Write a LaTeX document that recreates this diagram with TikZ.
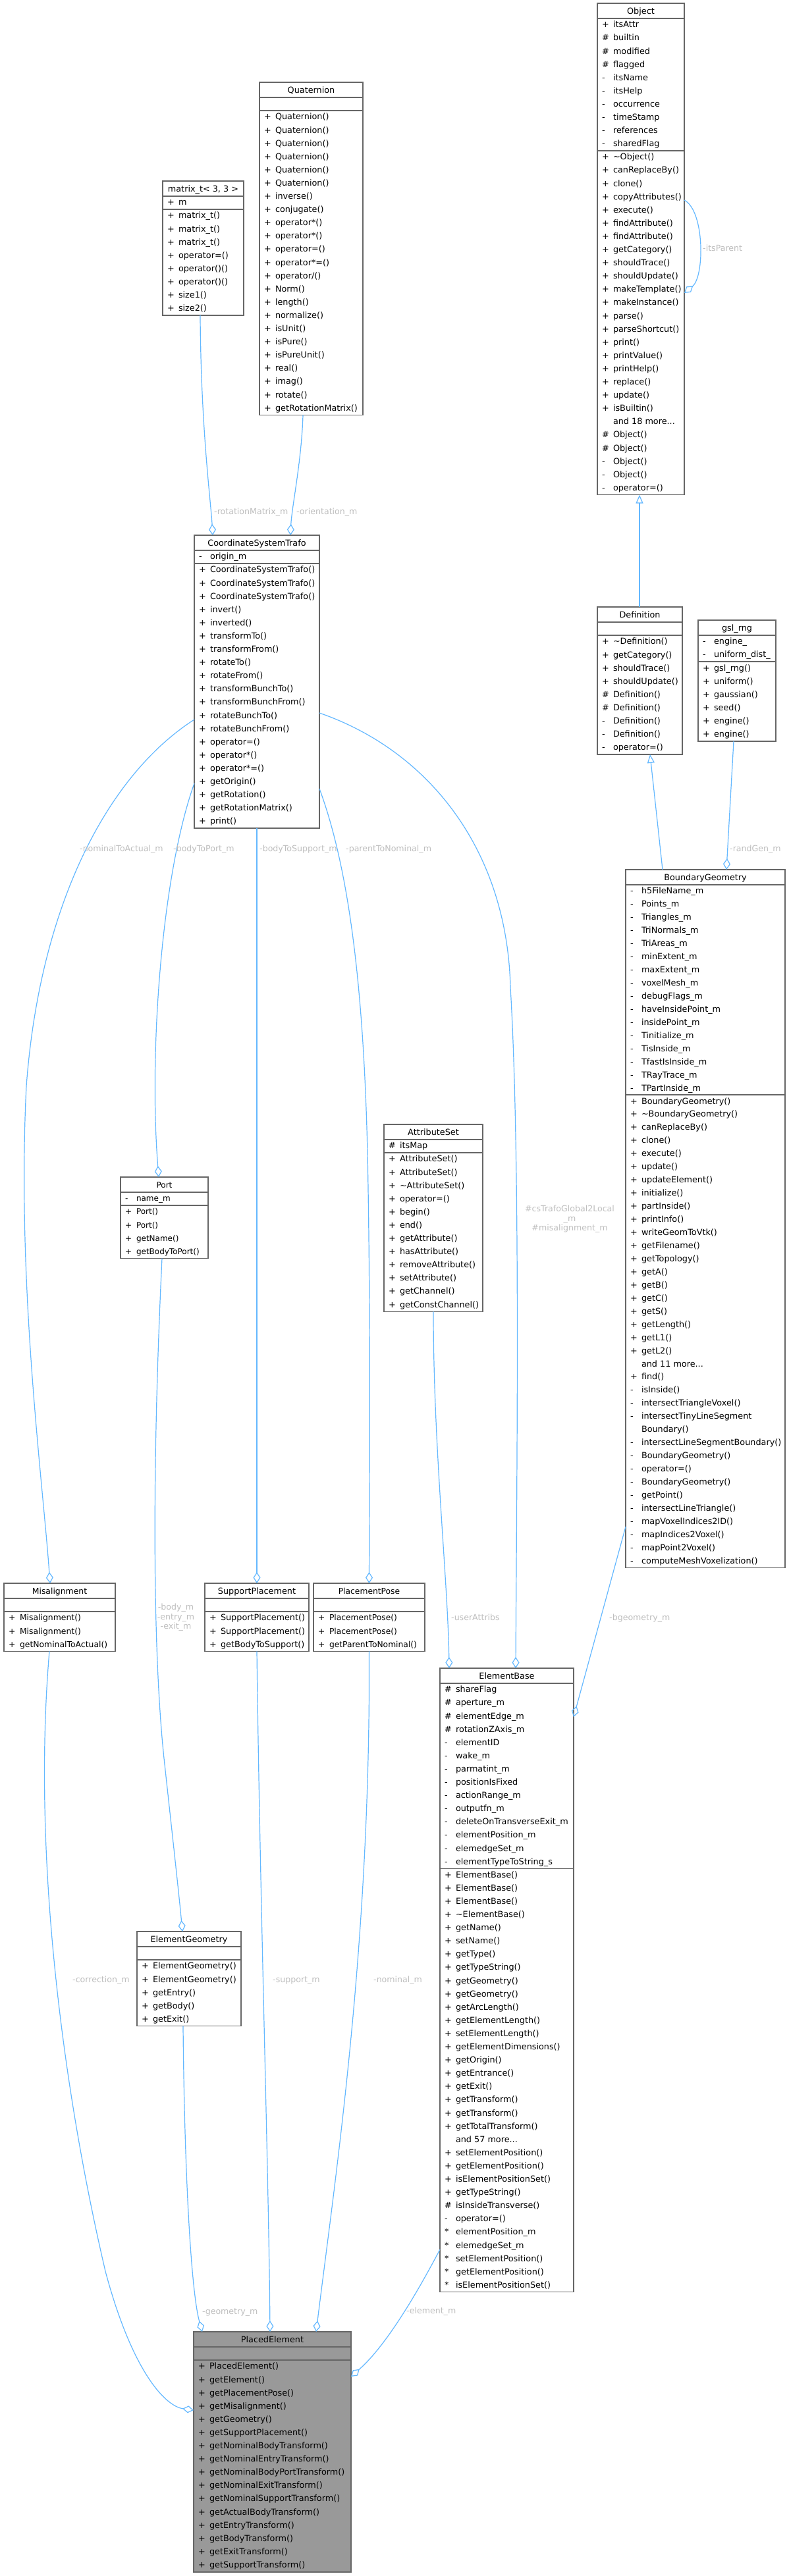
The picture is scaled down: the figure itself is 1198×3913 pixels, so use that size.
\documentclass[tikz,border=0pt]{standalone}
\usepackage{fontspec}
\setmainfont{DejaVu Sans}
\usetikzlibrary{arrows.meta}
\definecolor{edgeblue}{HTML}{63B8FF}
\definecolor{boxgray}{HTML}{666666}
\definecolor{lblgray}{HTML}{BEBEBE}
\definecolor{pefill}{HTML}{999999}
\newcommand\upitch{20.1}
\newcommand\ubfill{white}
\newcommand\ubfs{12.8}
\newcommand\tdots{...}
% #1 name, #2 x, #3 y, #4 w, #5 nA, #6 nM, #7 title, #8 attrs, #9 methods
\newcommand\umlbox[9]{%
  \pgfmathsetmacro\ubA{max(#5,1)*\upitch}%
  \pgfmathsetmacro\ubM{max(#6,1)*\upitch}%
  \pgfmathsetmacro\ubH{23+\ubA+\ubM}%
  \node[umlframe, fill=\ubfill, minimum width=#4pt, minimum height=\ubH pt, anchor=north west] (#1) at (#2,#3) {};%
  \node[rowtext, anchor=base] (#1-title) at ({#2+#4/2},{#3+16.5}) {#7};%
  \draw[sepline] (#2,{#3+23}) -- ({#2+#4},{#3+23});%
  \draw[sepline] (#2,{#3+23+\ubA}) -- ({#2+#4},{#3+23+\ubA});%
  \ifnum#5>0
    \foreach \usym/\uname [count=\ui] in {#8}{%
      \node[rowtext, anchor=base west] (#1-as\ui) at ({#2+7},{#3+36.8+(\ui-1)*\upitch}) {\usym};%
      \node[rowtext, anchor=base west] (#1-a\ui) at ({#2+24},{#3+36.8+(\ui-1)*\upitch}) {\uname};%
    }%
  \fi
  \foreach \usym/\uname [count=\ui] in {#9}{%
    \node[rowtext, anchor=base west] (#1-ms\ui) at ({#2+7},{#3+36.8+\ubA+(\ui-1)*\upitch}) {\usym};%
    \node[rowtext, anchor=base west] (#1-m\ui) at ({#2+24},{#3+36.8+\ubA+(\ui-1)*\upitch}) {\uname};%
  }%
}
\begin{document}
\begin{tikzpicture}[x=1pt,y=-1pt,
  umlframe/.style={draw=boxgray, line width=1.5pt, inner sep=0pt, outer sep=0pt, rectangle},
  sepline/.style={draw=boxgray, line width=1.5pt},
  rowtext/.style={font=\fontsize{\ubfs}{15}\selectfont, inner sep=0pt, outer sep=0pt, text=black},
  lbl/.style={font=\fontsize{12.6}{14.5}\selectfont, inner sep=0pt, text=lblgray},
  conn/.style={draw=edgeblue, line width=1.2pt},
  agg/.style={conn, -{Diamond[open, length=17pt, width=11pt]}},
  inh/.style={conn, -{Triangle[open, length=13pt, width=11pt]}}]
\fill[white] (0,0) rectangle (1198,3913);
\useasboundingbox (0,0) rectangle (1198,3913);

\umlbox{obj}{907}{5}{132}{10}{26}{Object}%
{+/itsAttr, \#/builtin, \#/modified, \#/flagged, -/itsName, -/itsHelp, -/occurrence, -/timeStamp, -/references, -/sharedFlag}%
{+/\textasciitilde Object(), +/canReplaceBy(), +/clone(), +/copyAttributes(), +/execute(), +/findAttribute(), +/findAttribute(), +/getCategory(), +/shouldTrace(), +/shouldUpdate(), +/makeTemplate(), +/makeInstance(), +/parse(), +/parseShortcut(), +/print(), +/printValue(), +/printHelp(), +/replace(), +/update(), +/isBuiltin(), {}/and 18 more\tdots, \#/Object(), \#/Object(), -/Object(), -/Object(), -/operator=()}

\umlbox{quat}{394}{125}{157}{0}{23}{Quaternion}{}%
{+/Quaternion(), +/Quaternion(), +/Quaternion(), +/Quaternion(), +/Quaternion(), +/Quaternion(), +/inverse(), +/conjugate(), +/operator*(), +/operator*(), +/operator=(), +/operator*=(), +/{operator/()}, +/Norm(), +/length(), +/normalize(), +/isUnit(), +/isPure(), +/isPureUnit(), +/real(), +/imag(), +/rotate(), +/getRotationMatrix()}

\umlbox{mat}{247}{275}{123}{1}{8}{matrix\_t< 3, 3 >}{+/m}%
{+/matrix\_t(), +/matrix\_t(), +/matrix\_t(), +/operator=(), +/operator()(), +/operator()(), +/size1(), +/size2()}

\umlbox{cst}{295}{813}{190}{1}{20}{CoordinateSystemTrafo}{-/origin\_m}%
{+/CoordinateSystemTrafo(), +/CoordinateSystemTrafo(), +/CoordinateSystemTrafo(), +/invert(), +/inverted(), +/transformTo(), +/transformFrom(), +/rotateTo(), +/rotateFrom(), +/transformBunchTo(), +/transformBunchFrom(), +/rotateBunchTo(), +/rotateBunchFrom(), +/operator=(), +/operator*(), +/operator*=(), +/getOrigin(), +/getRotation(), +/getRotationMatrix(), +/print()}

\umlbox{def}{907}{922}{129}{0}{9}{Definition}{}%
{+/\textasciitilde Definition(), +/getCategory(), +/shouldTrace(), +/shouldUpdate(), \#/Definition(), \#/Definition(), -/Definition(), -/Definition(), -/operator=()}

\umlbox{gsl}{1060}{942}{118}{2}{6}{gsl\_rng}{-/engine\_, -/uniform\_dist\_}%
{+/gsl\_rng(), +/uniform(), +/gaussian(), +/seed(), +/engine(), +/engine()}

\renewcommand\upitch{19.95}
\umlbox{bg}{950}{1321}{242}{16}{36}{BoundaryGeometry}%
{-/h5FileName\_m, -/Points\_m, -/Triangles\_m, -/TriNormals\_m, -/TriAreas\_m, -/minExtent\_m, -/maxExtent\_m, -/voxelMesh\_m, -/debugFlags\_m, -/haveInsidePoint\_m, -/insidePoint\_m, -/Tinitialize\_m, -/TisInside\_m, -/TfastIsInside\_m, -/TRayTrace\_m, -/TPartInside\_m}%
{+/BoundaryGeometry(), +/\textasciitilde BoundaryGeometry(), +/canReplaceBy(), +/clone(), +/execute(), +/update(), +/updateElement(), +/initialize(), +/partInside(), +/printInfo(), +/writeGeomToVtk(), +/getFilename(), +/getTopology(), +/getA(), +/getB(), +/getC(), +/getS(), +/getLength(), +/getL1(), +/getL2(), {}/and 11 more\tdots, +/find(), -/isInside(), -/intersectTriangleVoxel(), -/intersectTinyLineSegment, {}/Boundary(), -/intersectLineSegmentBoundary(), -/BoundaryGeometry(), -/operator=(), -/BoundaryGeometry(), -/getPoint(), -/intersectLineTriangle(), -/mapVoxelIndices2ID(), -/mapIndices2Voxel(), -/mapPoint2Voxel(), -/computeMeshVoxelization()}
\renewcommand\upitch{20.1}

\umlbox{attr}{583}{1708}{150}{1}{12}{AttributeSet}{\#/itsMap}%
{+/AttributeSet(), +/AttributeSet(), +/\textasciitilde AttributeSet(), +/operator=(), +/begin(), +/end(), +/getAttribute(), +/hasAttribute(), +/removeAttribute(), +/setAttribute(), +/getChannel(), +/getConstChannel()}

\renewcommand\ubfs{12.0}
\umlbox{port}{183}{1788}{133}{1}{4}{Port}{-/name\_m}%
{+/Port(), +/Port(), +/getName(), +/getBodyToPort()}
\renewcommand\ubfs{12.4}
\umlbox{mis}{6}{2405}{169}{0}{3}{Misalignment}{}%
{+/Misalignment(), +/Misalignment(), +/getNominalToActual()}
\renewcommand\ubfs{12.8}
\umlbox{sup}{311}{2405}{158}{0}{3}{SupportPlacement}{}%
{+/SupportPlacement(), +/SupportPlacement(), +/getBodyToSupport()}
\renewcommand\ubfs{12.3}
\umlbox{pose}{476}{2405}{169}{0}{3}{PlacementPose}{}%
{+/PlacementPose(), +/PlacementPose(), +/getParentToNominal()}
\renewcommand\ubfs{12.8}

\umlbox{eb}{668}{2534}{203}{14}{32}{ElementBase}%
{\#/shareFlag, \#/aperture\_m, \#/elementEdge\_m, \#/rotationZAxis\_m, -/elementID, -/wake\_m, -/parmatint\_m, -/positionIsFixed, -/actionRange\_m, -/outputfn\_m, -/deleteOnTransverseExit\_m, -/elementPosition\_m, -/elemedgeSet\_m, -/elementTypeToString\_s}%
{+/ElementBase(), +/ElementBase(), +/ElementBase(), +/\textasciitilde ElementBase(), +/getName(), +/setName(), +/getType(), +/getTypeString(), +/getGeometry(), +/getGeometry(), +/getArcLength(), +/getElementLength(), +/setElementLength(), +/getElementDimensions(), +/getOrigin(), +/getEntrance(), +/getExit(), +/getTransform(), +/getTransform(), +/getTotalTransform(), {}/and 57 more\tdots, +/setElementPosition(), +/getElementPosition(), +/isElementPositionSet(), +/getTypeString(), \#/isInsideTransverse(), -/operator=(), */elementPosition\_m, */elemedgeSet\_m, */setElementPosition(), */getElementPosition(), */isElementPositionSet()}

\umlbox{eg}{208}{2934}{158}{0}{5}{ElementGeometry}{}%
{+/ElementGeometry(), +/ElementGeometry(), +/getEntry(), +/getBody(), +/getExit()}

\renewcommand\ubfill{pefill}
\umlbox{pe}{294}{3542}{239}{0}{16}{PlacedElement}{}%
{+/PlacedElement(), +/getElement(), +/getPlacementPose(), +/getMisalignment(), +/getGeometry(), +/getSupportPlacement(), +/getNominalBodyTransform(), +/getNominalEntryTransform(), +/getNominalBodyPortTransform(), +/getNominalExitTransform(), +/getNominalSupportTransform(), +/getActualBodyTransform(), +/getEntryTransform(), +/getBodyTransform(), +/getExitTransform(), +/getSupportTransform()}
\renewcommand\ubfill{white}

% connectors
\draw[agg] ([xshift=57pt]mat.south west) .. controls (305,650) and (320,760) .. ([xshift=28pt]cst.north west);
\draw[agg] ([xshift=66pt]quat.south west) .. controls (458,700) and (443,770) .. ([xshift=146pt]cst.north west);
\draw[agg] ([yshift=-280pt]cst.north west) .. controls (160,1180) and (60,1380) .. (40,1650) .. controls (25,1950) and (65,2250) .. ([xshift=70pt]mis.north west);
\draw[agg] ([yshift=-377pt]cst.north west) .. controls (245,1330) and (226,1600) .. ([xshift=58pt]port.north west);
\draw[agg] (cst.south) -- (sup.north);
\draw[agg] ([yshift=-385pt]cst.north east) .. controls (530,1320) and (552,1500) .. (558,1750) .. controls (563,2000) and (561,2250) .. (pose.north);
\draw[agg] ([yshift=-270pt]cst.north east) .. controls (650,1140) and (770,1290) .. (775,1500) .. controls (790,1750) and (785,2200) .. ([xshift=115pt]eb.north west);
\draw[agg] (attr.south) .. controls (658,2200) and (680,2400) .. ([xshift=14pt]eb.north west);
\draw[agg] ([xshift=63pt]port.south west) .. controls (232,2200) and (230,2500) .. (250,2680) .. controls (262,2790) and (272,2880) .. ([xshift=69pt]eg.north west);
\draw[agg] ([xshift=69pt]mis.south west) .. controls (50,2800) and (90,3150) .. (160,3450) .. controls (200,3600) and (250,3655) .. ([yshift=-119pt]pe.north west);
\draw[agg] (sup.south) .. controls (395,2900) and (408,3300) .. ([xshift=116pt]pe.north west);
\draw[agg] (pose.south) .. controls (563,2950) and (510,3300) .. ([xshift=186pt]pe.north west);
\draw[agg] ([xshift=70pt]eg.south west) .. controls (280,3300) and (290,3480) .. ([xshift=13pt]pe.north west);
\draw[agg] ([yshift=-883pt]eb.north west) .. controls (640,3470) and (590,3560) .. ([yshift=-68pt]pe.north east);
\draw[agg] ([yshift=-998pt]bg.north west) -- ([yshift=-74pt]eb.north east);
\draw[agg] ([xshift=54pt]gsl.south west) -- ([xshift=153pt]bg.north west);
\draw[inh] ([xshift=56pt]bg.north west) -- ([xshift=80pt]def.south west);
\draw[inh] ([xshift=64pt]def.north west) -- ([xshift=64pt]obj.south west);
\draw[agg] ([yshift=-299pt]obj.north east) .. controls (1070,320) and (1070,420) .. ([yshift=-440pt]obj.north east);

% labels
\node[lbl, anchor=base west] (l-rot) at (325,781) {-rotationMatrix\_m};
\node[lbl, anchor=base west] (l-ori) at (450,781) {-orientation\_m};
\node[lbl, anchor=base west] (l-par) at (1067,381) {-itsParent};
\node[lbl, anchor=base west] (l-na) at (121,1293) {-nominalToActual\_m};
\node[lbl, anchor=base west] (l-bp) at (263,1293) {-bodyToPort\_m};
\node[lbl, anchor=base west] (l-bs) at (394,1293) {-bodyToSupport\_m};
\node[lbl, anchor=base west] (l-pn) at (525,1293) {-parentToNominal\_m};
\node[lbl, anchor=base west] (l-rg) at (1108,1293) {-randGen\_m};
\node[lbl, align=center] (l-cs) at (865,1852) {\#csTrafoGlobal2Local\\\_m\\\#misalignment\_m};
\node[lbl, align=center] (l-bd) at (267,2457) {-body\_m\\-entry\_m\\-exit\_m};
\node[lbl, anchor=base west] (l-ua) at (685,2461) {-userAttribs};
\node[lbl, anchor=base west] (l-bg) at (925,2461) {-bgeometry\_m};
\node[lbl, anchor=base west] (l-co) at (110,3011) {-correction\_m};
\node[lbl, anchor=base west] (l-su) at (414,3011) {-support\_m};
\node[lbl, anchor=base west] (l-no) at (567,3011) {-nominal\_m};
\node[lbl, anchor=base west] (l-ge) at (307,3515) {-geometry\_m};
\node[lbl, anchor=base west] (l-el) at (617,3514) {-element\_m};
\end{tikzpicture}
\end{document}
